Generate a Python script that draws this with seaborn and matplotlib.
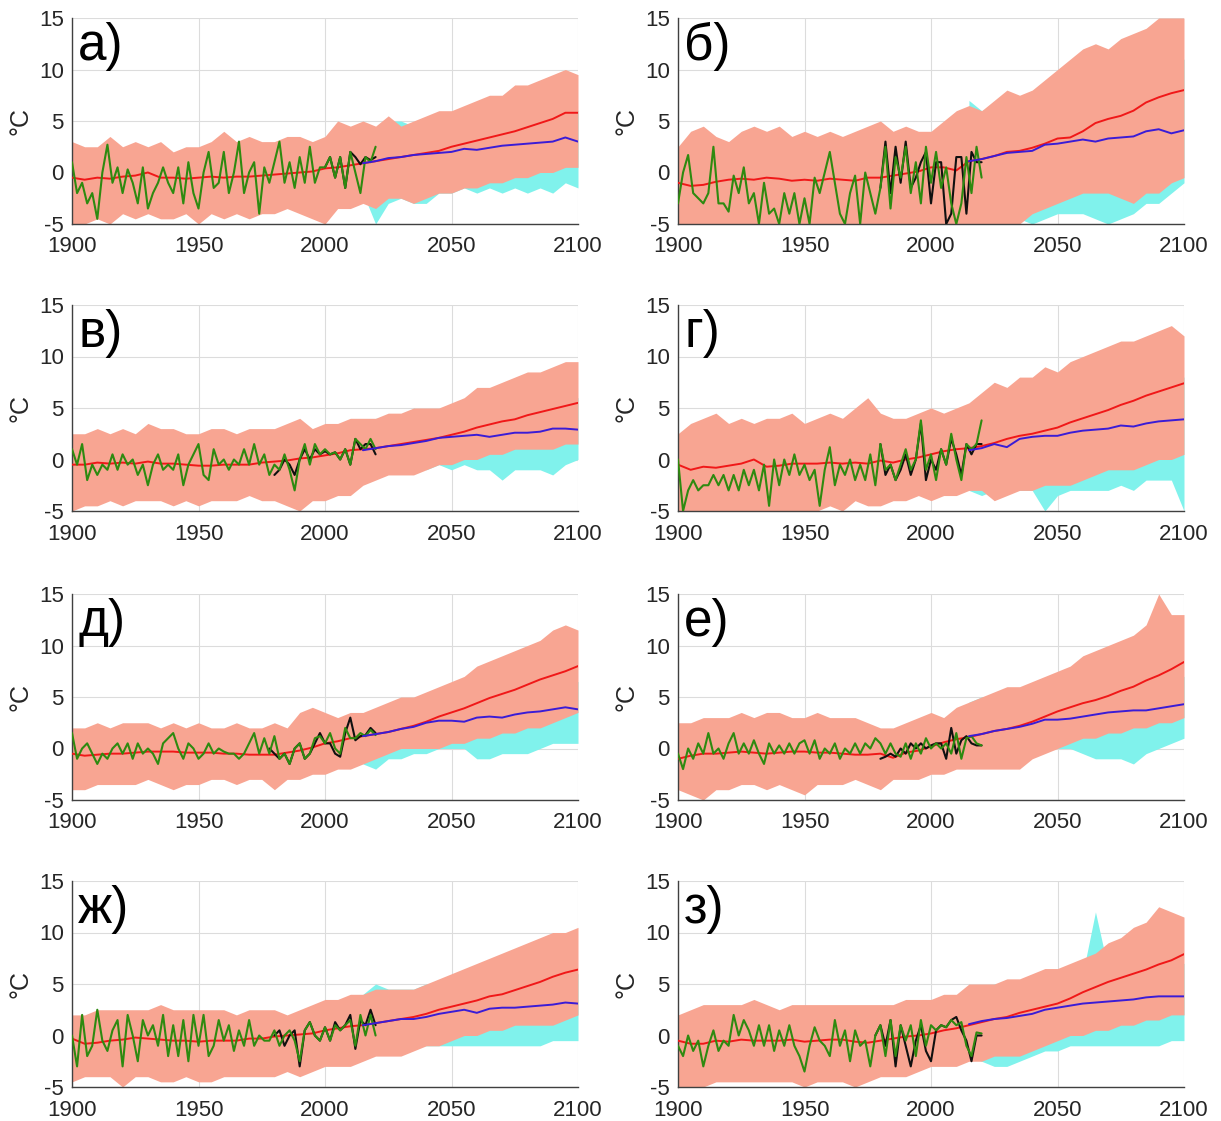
import numpy as np
import pandas as pd
import matplotlib
matplotlib.use("Agg")
import matplotlib.pyplot as plt
import seaborn as sns

# ---------------- DATA ----------------
YEARS_5 = list(range(1900, 2101, 5))      # red mean, pink envelope
YEARS_FUT = list(range(2015, 2101, 5))    # blue mean, cyan envelope
YEARS_GREEN = list(range(1900, 2021, 2))  # observations
PANEL_LABELS = ["а)", "б)", "в)", "г)", "д)", "е)", "ж)", "з)"]
X_TICKS = [1900, 1950, 2000, 2050, 2100]
Y_TICKS = [-5, 0, 5, 10, 15]

# ---- panel а
red_a = [-0.5, -0.7, -0.5, -0.6, -0.4, -0.3, 0.0, -0.5, -0.5, -0.6, -0.5, -0.4, -0.5, -0.4, -0.4, -0.3, -0.2, -0.1, 0.0, 0.1, 0.4,
         0.5, 0.7, 0.9, 1.1, 1.3, 1.5, 1.7, 1.9, 2.1, 2.5, 2.8, 3.1, 3.4, 3.7, 4.0, 4.4, 4.8, 5.2, 5.8, 5.8]
blue_a = [0.9, 1.1, 1.4, 1.5, 1.7, 1.8, 1.9, 2.0, 2.3, 2.2, 2.4, 2.6, 2.7, 2.8, 2.9, 3.0, 3.4, 3.0]
hi_a = [3, 2.5, 2.5, 3.5, 2.5, 3, 2.5, 3, 2, 2.5, 2.5, 3, 4, 3, 3.5, 3, 3, 3.5, 3.5, 3, 3.5, 5, 4.5, 5, 4.5, 5.5,
        4.5, 5, 5.5, 6, 6, 6.5, 7, 7.5, 7.5, 8.5, 8.5, 9, 9.5, 10, 9.5]
lo_a = [-5, -5, -4.5, -5, -4, -4.5, -4, -4.5, -4.5, -4, -5, -4, -4.5, -4, -4.5, -4, -4, -3.5, -4, -4.5, -5, -3.5, -3.5,
        -3, -3.5, -2.5, -2.5, -3, -2.5, -2, -2, -1.5, -1.5, -1, -1, -0.5, -0.5, 0, 0, 0.5, 0.5]
cyan_lo_a = [-2, -5, -3, -2.5, -3, -3, -2, -2, -1.5, -2, -1.5, -2, -1.5, -2, -1.5, -2, -1, -1.5]
cyan_hi_a = [3, 4, 5, 5, 4.5, 5, 5, 4.5, 5, 5, 5.5, 5, 5.5, 6, 6, 6, 6.5, 6]
green_a = [1, -2, -1, -3, -2, -4.5, 0, 2.7, -1, 0.5, -2, 0.3, -1, -3, 0.5, -3.5, -2, -1, 0.5, -1, -2, 0.5, -3, 1, -2, -3.5,
           0, 2, -1.5, -1, 2, -2, 0, 3, -2, 0, 1, -4, 0.5, -1, 1, 3, -1, 1, -1.5, 1.5, -1, 2.5, -1, 0.5, 0.5, 1.5, -0.5,
           1.5, -1.5, 2, 0, -2, 1.5, 1, 2.5]
black_years_a = list(range(2000, 2021, 2))
black_a = [0.5, 1.5, -0.5, 1.5, -1.5, 2, 1.5, 0.8, 1.5, 1.2, 1.5]

# ---- panel б
red_b = [-1.0, -1.3, -1.2, -0.9, -0.7, -0.6, -0.7, -0.5, -0.6, -0.8, -0.7, -0.8, -0.6, -0.7, -0.8, -0.5, -0.5, -0.3, -0.1, 0.1, 0.5,
         0.5, 0.2, 1.1, 1.3, 1.6, 2.0, 2.1, 2.4, 2.8, 3.3, 3.4, 4.0, 4.8, 5.2, 5.5, 6.0, 6.8, 7.3, 7.7, 8.0]
blue_b = [1.1, 1.3, 1.6, 1.9, 2.0, 2.1, 2.7, 2.8, 3.0, 3.2, 3.0, 3.3, 3.4, 3.5, 4.0, 4.2, 3.8, 4.1]
hi_b = [2.5, 4, 4.5, 3.5, 3, 4, 4.5, 4, 4.5, 3.5, 4, 3.5, 4, 3.5, 4, 4.5, 5, 4, 4.5, 4, 4, 5, 6, 6.5, 6, 7, 8, 7.5,
        8, 9, 10, 11, 12, 12.5, 12, 13, 13.5, 14, 15, 15, 15]
lo_b = [-5, -5, -5, -5, -5, -5, -5, -5, -5, -5, -5, -5, -5, -5, -5, -5, -5, -5, -5, -5, -5, -5, -5, -5, -5, -5, -5,
        -5, -4, -3.5, -3, -2.5, -2, -2, -2, -2.5, -3, -2, -2, -1, -0.5]
cyan_lo_b = [-2, -3, -4, -4, -4.5, -5, -4.5, -4, -4, -4, -4.5, -5, -4.5, -4, -3, -3, -2, -1]
cyan_hi_b = [7, 6, 6.5, 7, 7, 7.5, 8, 8, 9, 9, 9.5, 10, 10, 10.5, 11, 11, 11, 11]
green_b = [-3, 0, 1.7, -2, -2.5, -3, -2, 2.5, -3, -3, -3.8, -0.3, -2, 0.5, -3, -2, -5, -1, -4, -3.5, -5, -2, -4, -2, -5,
           -2.5, -5, -0.5, -2, 0, 2, -1, -4, -5, -2, -0.3, -5, 0, -2, -4, -1.5, 2.5, -3.5, 1.5, -0.5, 2.5, -2, 1, -3, 2.5,
           -1, 2, -1.5, 0.5, -3, -5, -3, 1.5, -2, 2.5, -0.5]
black_years_b = list(range(1980, 2021, 2))
black_b = [-1.5, 3, -2, 2.5, -1, 3, -1.5, -0.5, 1, 2, -3, 1, 1, -5, -4, 1.5, 1.5, -4, 2, 1, 1]

# ---- panel в
red_c = [-0.5, -0.5, -0.3, -0.4, -0.3, -0.4, -0.2, -0.4, -0.4, -0.5, -0.6, -0.6, -0.5, -0.5, -0.5, -0.3, -0.2, -0.1, 0.1, 0.2, 0.4,
         0.6, 0.9, 1.0, 1.1, 1.3, 1.5, 1.7, 1.9, 2.1, 2.4, 2.7, 3.1, 3.4, 3.7, 3.9, 4.3, 4.6, 4.9, 5.2, 5.5]
blue_c = [0.9, 1.1, 1.3, 1.4, 1.6, 1.8, 2.1, 2.2, 2.3, 2.4, 2.2, 2.4, 2.6, 2.6, 2.7, 3.0, 3.0, 2.9]
hi_c = [2.5, 2.5, 3, 2.5, 3, 2.5, 3.5, 3, 3, 2.5, 2.5, 3, 3, 2.5, 3, 3, 3, 3.5, 4, 3, 3.5, 3.5, 4, 4, 4, 4.5, 4.5,
        5, 5, 5, 5.5, 6, 7, 7, 7.5, 8, 8.5, 8.5, 9, 9.5, 9.5]
lo_c = [-5, -4.5, -4.5, -4, -4.5, -4, -4, -4, -4.5, -4, -4.5, -4, -4, -4, -3.5, -4, -4, -4.5, -5, -4, -4, -3.5, -3.5,
        -2.5, -2, -1.5, -1.5, -1.5, -1, -0.5, -0.5, 0, 0, 0.5, 0.5, 1, 1, 1, 1, 1.5, 1.5]
cyan_lo_c = [-1, -1, -1, -1, -0.5, -1, -0.5, -1, -0.5, -1, -1, -2, -1, -1, -1, -1.5, -0.5, 0]
cyan_hi_c = [3, 4, 4, 4, 5, 4.5, 4.5, 5, 5, 5, 5.5, 5.5, 5.5, 6, 6, 6, 6, 6]
green_c = [1, -0.5, 1.5, -2, -0.5, -1.5, -0.5, -1, 0.5, -1, 0.5, -0.5, 0, -1.5, -0.5, -2.5, -0.5, 0.5, -1, -0.5, -1, 0.5,
           -2.5, -0.5, 0.5, 1.5, -1.5, -2, 1, -0.5, 0, -1, 0, -0.5, 1, -0.5, 1.5, -0.5, 0.5, -1.5, -0.5, -1, 0.5, -1, -3,
           0, 1.5, -0.5, 1.5, 0.5, 1, 0.5, 0.7, 0, 1, -0.5, 2, 1.5, 1, 2, 1]
black_years_c = list(range(1980, 2021, 2))
black_c = [-1.5, -1, 0, -0.5, -1.5, 0, 1, 0, 1, 0.5, 0.8, 0.5, 0.7, 0, 1, -0.5, 2, 1, 1.5, 1.5, 0.5]

# ---- panel г
red_d = [-0.5, -1.0, -0.7, -0.8, -0.6, -0.4, 0.0, -0.7, -0.6, -0.4, -0.4, -0.4, -0.3, -0.4, -0.3, -0.4, -0.1, -0.3, 0.0, 0.2, 0.5,
         0.8, 1.0, 1.1, 1.3, 1.6, 2.0, 2.3, 2.5, 2.8, 3.1, 3.6, 4.0, 4.4, 4.8, 5.3, 5.7, 6.2, 6.6, 7.0, 7.4]
blue_d = [0.9, 1.1, 1.5, 1.2, 2.0, 2.2, 2.3, 2.3, 2.6, 2.8, 2.9, 3.0, 3.3, 3.2, 3.5, 3.7, 3.8, 3.9]
hi_d = [2.5, 3.5, 4, 4.5, 3.5, 4, 3.5, 4, 4, 4.5, 3.5, 4, 4.5, 4, 5, 6, 4.5, 4, 4, 4.5, 5, 4.5, 5, 5.5, 6.5, 7.5, 7,
        8, 8, 9, 8.5, 9.5, 10, 10.5, 11, 11.5, 11.5, 12, 12.5, 13, 12]
lo_d = [-5, -5, -5, -5, -5, -5, -5, -5, -5, -5, -5, -5, -4.5, -5, -4, -4.5, -4.5, -4, -4, -3.5, -4, -3.5, -3.5, -3,
        -3, -4, -3.5, -3, -3, -2.5, -2.5, -2.5, -2, -1.5, -1, -1, -1, -0.5, 0, 0, 0.5]
cyan_lo_d = [-3, -3.5, -3, -3, -3, -3, -5, -3.5, -3, -3, -3, -3, -2.5, -3, -2, -2, -2, -5]
cyan_hi_d = [4, 5, 5, 5, 5, 5.5, 5.5, 6, 6, 6.5, 6.5, 7, 7, 7, 7.5, 7.5, 8, 8]
green_d = [0, -5, -3, -2, -3, -2.5, -2.5, -1.5, -2.5, -1.5, -3, -1.5, -3, -1, -2.5, -1, -3, -0.5, -4.5, 0, -2.5, 0, -1.5,
           0.5, -1.5, -0.5, -2, -1, -4.5, -1, 1.2, -2.5, -0.5, -1.5, 0, -2, -0.5, -2, 0.5, -2.5, 1.5, -1, -0.5, -2, -0.5,
           1, -1, 0, 3.8, -1, 0.5, -2, 1, -0.5, 2.5, 0, -2, 1.5, 1, 1.5, 3.8]
black_years_d = list(range(1980, 2021, 2))
black_d = [1.5, -1.5, -0.5, -2, -1, 0.5, -1.5, 0, 3.5, -2, 0, -1, 1, -0.5, 2, 0.5, -1.5, 1.5, 0.5, 1.5, 1.5]

# ---- panel д
red_e = [-0.5, -0.7, -0.6, -0.5, -0.5, -0.4, -0.3, -0.3, -0.3, -0.4, -0.4, -0.4, -0.5, -0.5, -0.6, -0.6, -0.6, -0.4, -0.2, 0.1, 0.5,
         0.7, 1.0, 1.2, 1.4, 1.6, 1.9, 2.2, 2.6, 3.1, 3.5, 3.9, 4.4, 4.9, 5.3, 5.7, 6.2, 6.7, 7.1, 7.5, 8.0]
blue_e = [1.2, 1.4, 1.6, 1.9, 2.1, 2.5, 2.7, 2.7, 2.6, 3.0, 3.1, 3.0, 3.3, 3.5, 3.6, 3.8, 4.0, 3.8]
hi_e = [2, 2, 2.5, 2, 2.5, 2.5, 2.5, 2, 2.5, 2, 2.5, 2, 2, 2.5, 2, 2, 2.5, 2, 3.5, 4, 3.5, 3, 3.5, 3.5, 4, 4.5, 5, 5,
        5.5, 6, 6.5, 7, 8, 8.5, 9, 9.5, 10, 10.5, 11.5, 12, 11.5]
lo_e = [-4, -4, -3.5, -3.5, -3.5, -3.5, -3, -3.5, -4, -3.5, -3.5, -3, -3, -3.5, -3, -3, -4, -3, -3, -2.5, -2.5, -2,
        -2, -1.5, -1, -0.5, 0, 0, 0, 0, 0.5, 0.5, 1, 1, 1.5, 1.5, 2, 2, 2.5, 3, 3.5]
cyan_lo_e = [-1.5, -2, -1, -1, -0.5, -0.5, 0, 0, 0, -1, -1, -0.5, -0.5, -0.5, 0, 0.5, 0.5, 0.5]
cyan_hi_e = [2.5, 3, 3.5, 4, 4, 4.5, 5, 5, 5, 5.5, 5.5, 6, 6, 6, 6.5, 6.5, 6.5, 6.5]
green_e = [1.5, -1, 0, 0.5, -0.5, -1.5, -0.5, -1, 0, 0.5, -0.5, 0.5, -1, 0.5, -0.5, 0, -0.5, -1.5, 0.5, 1, 1.5, 0, -1,
           0.5, 0, -1, -0.5, 0.5, -0.5, 0, -0.3, -0.5, -0.5, -1, -0.5, 0.5, 1.5, -0.5, 1, -0.5, 1.2, -1, -0.5, -1.5, 0,
           0.5, -1, -0.5, 1, 1.2, 0.5, 1.5, 0, -0.5, 2, 1, 1, 1.5, 1.2, 1.8, 1.3]
black_years_e = list(range(1978, 2021, 2))
black_e = [0, -0.5, -1, -0.5, -1.5, 0, 0.5, -1, -0.5, 0.5, 1.5, 0.5, 0.5, -0.5, -0.8, 1.5, 3, 0.8, 1.2, 1.3, 2, 1.5]

# ---- panel е
red_f = [-1.0, -0.7, -0.5, -0.5, -0.4, -0.3, -0.4, -0.5, -0.4, -0.3, -0.3, -0.4, -0.4, -0.5, -0.6, -0.6, -0.5, -0.9, -0.4, -0.2, 0.2,
         0.6, 0.9, 1.1, 1.4, 1.7, 1.9, 2.2, 2.6, 3.1, 3.6, 4.0, 4.4, 4.7, 5.1, 5.6, 6.0, 6.6, 7.1, 7.7, 8.4]
blue_f = [1.2, 1.4, 1.7, 1.9, 2.1, 2.4, 2.8, 2.8, 2.9, 3.1, 3.3, 3.5, 3.6, 3.7, 3.7, 3.9, 4.1, 4.3]
hi_f = [2.5, 2.5, 3, 3, 3, 3.5, 3, 3.5, 3.5, 3, 3, 3.5, 3, 3, 3, 2.5, 2, 2, 2.5, 3, 3.5, 3, 4, 4.5, 5, 5.5, 6, 6,
        6.5, 7, 7.5, 8, 9, 9.5, 10, 10.5, 11, 12, 15, 13, 13]
lo_f = [-4, -4.5, -5, -4, -4, -3.5, -3.5, -4, -3.5, -4, -4.5, -3.5, -3.5, -3.5, -3, -3.5, -4, -3, -3, -3, -2.5, -2.5,
        -2, -2, -2, -2, -2, -2, -1, -0.5, 0, 0.5, 1, 1, 1.5, 1.5, 2, 2, 2.5, 2.5, 3]
cyan_lo_f = [-1, -1, -0.5, -0.5, 0, 0, 0, 0, 0, -0.5, -1, -1, -1, -1.5, -0.5, 0, 0.5, 1]
cyan_hi_f = [4.5, 5, 5, 5, 5.5, 5.5, 5.5, 6, 6, 6, 6.5, 6.5, 6.5, 7, 7, 7, 7, 7]
green_f = [-0.5, -2, 0, -1, 0.5, -0.5, 1.5, -0.5, 0, -1, 0.5, 1.5, -0.5, 0.5, -0.5, 0.8, -0.5, -1.5, 0.5, -0.5, 0.3,
           -0.5, 0.5, -0.5, 0.5, 0.8, -0.5, 0.8, -1, 0, -0.5, 0.5, -1, 0, -0.5, 0.5, -0.5, 0.5, 0, 1, 0.5, -0.5, 0.5,
           -0.5, -0.8, 0.5, -1, 0.5, -0.5, 1, 0, 0.5, 0, 0.5, -0.5, 1.5, -1, 1, 1.2, 0.5, 0.3]
black_years_f = list(range(1980, 2021, 2))
black_f = [-1, -0.8, -0.5, -0.8, 0, -0.5, 0.5, 0, 0.5, 0, 0.3, 0.5, 0.5, -1, 2, -0.5, 0.8, 1.2, 0.5, 0.3, 0.3]

# ---- panel ж
red_g = [-0.3, -0.8, -0.7, -0.5, -0.4, -0.2, -0.3, -0.4, -0.5, -0.5, -0.6, -0.5, -0.5, -0.5, -0.3, -0.3, -0.1, 0.0, 0.1, 0.2, 0.5,
         0.7, 0.9, 1.0, 1.2, 1.4, 1.6, 1.8, 2.1, 2.5, 2.8, 3.1, 3.4, 3.8, 4.0, 4.4, 4.8, 5.2, 5.7, 6.1, 6.4]
blue_g = [1.0, 1.2, 1.4, 1.6, 1.6, 1.8, 2.1, 2.3, 2.5, 2.2, 2.6, 2.7, 2.7, 2.8, 2.9, 3.0, 3.2, 3.1]
hi_g = [2, 2, 2.5, 2.5, 2.5, 2.5, 2.5, 3, 2.5, 2.5, 2.5, 2.5, 2.5, 2, 2.5, 2.5, 2.5, 2, 2.5, 3, 3.5, 3.5, 4, 4, 4.5,
        4.5, 4.5, 4.5, 5, 5.5, 6, 6.5, 7, 7.5, 8, 8.5, 9, 9.5, 10, 10, 10.5]
lo_g = [-4.5, -4, -4, -4, -5, -4, -4, -4.5, -4.5, -4, -4.5, -4.5, -4, -4, -4, -4, -4, -3.5, -4, -3.5, -3, -3, -3,
        -2.5, -2, -2, -2, -1.5, -1, -1, -0.5, 0, 0, 0.5, 0.5, 1, 1, 1, 1, 1.5, 2]
cyan_lo_g = [-1, -1.5, -1, -1, -1, -1, -1, -1, -1, -1, -1, -1, -1, -1, -1, -0.5, -0.5, -0.5]
cyan_hi_g = [4, 5, 4.5, 4.5, 4.5, 5, 5, 5, 5.5, 5.5, 5.5, 6, 6, 6, 6, 6, 6, 6]
green_g = [0, -3, 2, -2, -1, 2.5, -0.5, -1.5, 0.5, 1.5, -3, 2, 0, -2.5, 1.5, 0, 1, -1, 2, -2, 1, -2, 1.5, -2.5, 2, -1,
           2, -2, -1, 1.5, -0.5, 1, -1.5, 0.5, -1, 1.5, -1, 0, -0.5, -0.5, 0.5, -1, 0, 0.5, -0.5, -2.5, 0.5, 1.3, 0,
           -0.5, 0.8, -0.5, 1, 0.5, 1, 1.5, -1, 2, 0, 2, 0]
black_years_g = list(range(1980, 2021, 2))
black_g = [0, 0.5, -1, 0, 0.5, -3, 0.5, 1.3, 0, -0.5, 0.8, -0.5, 1.3, 0.5, 1, 2, -1.3, 1.5, 1, 2.5, 1]

# ---- panel з
red_h = [-0.5, -0.8, -0.8, -0.5, -0.6, -0.4, -0.5, -0.5, -0.5, -0.4, -0.6, -0.5, -0.4, -0.4, -0.6, -0.7, -0.5, -0.3, -0.1, 0.0, 0.2,
         0.5, 0.7, 1.0, 1.3, 1.6, 1.8, 2.2, 2.5, 2.8, 3.1, 3.6, 4.2, 4.7, 5.2, 5.6, 6.0, 6.4, 6.9, 7.3, 7.9]
blue_h = [1.1, 1.4, 1.6, 1.7, 1.9, 2.1, 2.5, 2.7, 2.9, 3.1, 3.2, 3.3, 3.4, 3.5, 3.7, 3.8, 3.8, 3.8]
hi_h = [2, 2.5, 3, 3, 3, 3, 3.5, 3, 2.5, 3, 3, 3, 3, 3, 3, 3, 3, 3, 3.5, 3.5, 3.5, 4, 4, 5, 5, 5, 5.5, 5.5, 6, 6.5,
        6.5, 7, 7.5, 8, 9, 9.5, 10.5, 11, 12.5, 12, 11.5]
lo_h = [-5, -5, -5, -4.5, -4.5, -4.5, -4.5, -4.5, -4.5, -4.5, -5, -4.5, -4.5, -4.5, -5, -4.5, -4, -4, -4, -3.5, -3, -3,
        -3, -2.5, -2.5, -2, -2, -2, -1.5, -1, -0.5, 0, 0, 0.5, 0.5, 1, 1, 1.5, 1.5, 2, 2]
cyan_lo_h = [-2, -2.5, -3, -3, -2.5, -2, -1.5, -1.5, -1, -1, -1, -1, -1, -1, -1, -1, -0.5, -0.5]
cyan_hi_h = [3.5, 4.5, 5, 5, 5, 5, 5.5, 5.5, 6, 6, 12, 6.5, 7, 7, 7, 7, 7, 7]
green_h = [-1, -2, 0, -1.5, -0.5, -3, -1, 0.5, -1.5, -0.5, -1, 2, 0, 1.5, 0.5, -1, 1, -1, 1, -1.5, 0.5, -1, 1, -1, -2,
           -3.5, -1, 0.8, -0.5, -1, -2, 1.5, -1, 0.5, -2.5, 0.5, -1, -0.5, -3, 0, 1, -2, 1.5, -2, 1, -0.5, 1, -2, 1.5,
           -1, 1, 0.5, 1, 0.8, 1.5, 1, 1.3, -1, -2, 0.3, 0.2]
black_years_h = list(range(1978, 2021, 2))
black_h = [0, 1, -1, 1.5, -3, 1, -1, -3, -0.5, 1, -1.5, -2.5, 0.5, 1, 0.8, 1.5, 1.8, 0.5, -0.5, -2.5, 0, 0]

panels = [
    (red_a, blue_a, hi_a, lo_a, cyan_lo_a, cyan_hi_a, green_a, black_years_a, black_a),
    (red_b, blue_b, hi_b, lo_b, cyan_lo_b, cyan_hi_b, green_b, black_years_b, black_b),
    (red_c, blue_c, hi_c, lo_c, cyan_lo_c, cyan_hi_c, green_c, black_years_c, black_c),
    (red_d, blue_d, hi_d, lo_d, cyan_lo_d, cyan_hi_d, green_d, black_years_d, black_d),
    (red_e, blue_e, hi_e, lo_e, cyan_lo_e, cyan_hi_e, green_e, black_years_e, black_e),
    (red_f, blue_f, hi_f, lo_f, cyan_lo_f, cyan_hi_f, green_f, black_years_f, black_f),
    (red_g, blue_g, hi_g, lo_g, cyan_lo_g, cyan_hi_g, green_g, black_years_g, black_g),
    (red_h, blue_h, hi_h, lo_h, cyan_lo_h, cyan_hi_h, green_h, black_years_h, black_h),
]

# ---------------- STYLE ----------------
sns.set_theme(style="whitegrid")
plt.rcParams["font.family"] = ["Liberation Sans", "DejaVu Sans"]

PINK = "#F8A592"
CYAN = "#80F2EC"
RED = "#F01818"
BLUE = "#3A1CD6"
GREEN = "#2E8A10"
BLACK = "#101010"
TXT = "#262626"

fig = plt.figure(figsize=(12.21, 11.21), dpi=100)
W, H = 1221, 1121
col_left = [72, 678]
row_bottom = [224, 511, 800, 1087]
ax_w, ax_h = 506, 206

for i, (red, blue, hi, lo, cy_lo, cy_hi, green, byears, black) in enumerate(panels):
    r, c = divmod(i, 2)
    ax = fig.add_axes([col_left[c] / W, (H - row_bottom[r]) / H, ax_w / W, ax_h / H])
    ax.set_xlim(1900, 2100)
    ax.set_ylim(-5, 15)

    ax.fill_between(YEARS_FUT, cy_lo, cy_hi, color=CYAN, lw=0, zorder=1)
    ax.fill_between(YEARS_5, lo, hi, color=PINK, lw=0, zorder=2)

    df_red = pd.DataFrame({"year": YEARS_5, "val": red})
    df_blue = pd.DataFrame({"year": YEARS_FUT, "val": blue})
    df_green = pd.DataFrame({"year": YEARS_GREEN, "val": green})
    df_black = pd.DataFrame({"year": byears, "val": black})

    sns.lineplot(data=df_red, x="year", y="val", ax=ax, color=RED, lw=1.4, zorder=3)
    sns.lineplot(data=df_black, x="year", y="val", ax=ax, color=BLACK, lw=1.5, zorder=4)
    sns.lineplot(data=df_green, x="year", y="val", ax=ax, color=GREEN, lw=1.5, zorder=5)
    sns.lineplot(data=df_blue, x="year", y="val", ax=ax, color=BLUE, lw=1.4, zorder=6)

    ax.set_xticks(X_TICKS)
    ax.set_yticks(Y_TICKS)
    ax.set_xticklabels([str(t) for t in X_TICKS])
    ax.set_yticklabels([str(t) for t in Y_TICKS])
    ax.tick_params(axis="x", labelsize=16, colors=TXT, direction="in", length=3, pad=9)
    ax.tick_params(axis="y", labelsize=16, colors=TXT, length=0, pad=6)
    ax.set_xlabel("")
    ax.set_ylabel("°C", fontsize=18, color=TXT)
    ax.yaxis.set_label_coords(-0.078, 0.5)
    for s in ["top", "right"]:
        ax.spines[s].set_visible(False)
    for s in ["left", "bottom"]:
        ax.spines[s].set_color("#404040")
        ax.spines[s].set_linewidth(1.0)
    ax.grid(True, color="#dcdcdc", lw=0.8)
    ax.set_axisbelow(True)
    ax.text(0.012, 0.86, PANEL_LABELS[i], transform=ax.transAxes, fontsize=37, color="black",
            ha="left", va="center", zorder=10)

fig.savefig("out.png", dpi=100, facecolor="white")
